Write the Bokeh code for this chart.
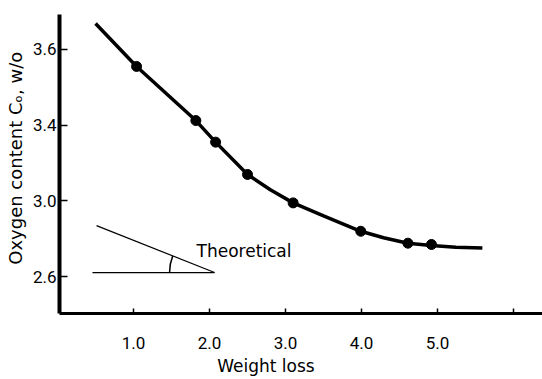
import math
from bokeh.plotting import figure
from bokeh.models import Range1d, Label, FixedTicker
from bokeh.embed import file_html
from bokeh.resources import INLINE

# measured points (weight loss, oxygen content in axis units)
wl_points = [1.04, 1.82, 2.08, 2.50, 3.10, 3.99, 4.61, 4.92]
oxy_points = [3.710, 3.424, 3.310, 3.139, 2.989, 2.839, 2.776, 2.769]

# drawn curve
wl_curve = [0.50, 1.04, 1.82, 2.08, 2.50, 2.80, 3.10, 3.50, 3.99, 4.29, 4.61, 4.92, 5.24, 5.59]
oxy_curve = [3.937, 3.710, 3.424, 3.310, 3.139, 3.058, 2.989, 2.920, 2.839, 2.805, 2.776, 2.764, 2.754, 2.750]

# "Theoretical" angle sketch
theo_h_x = [0.46, 2.066]
theo_h_y = [2.621, 2.621]
theo_s_x = [0.513, 2.066]
theo_s_y = [2.869, 2.621]

x_ticks = [1, 2, 3, 4, 5, 6]
x_tick_labels = ["1.0", "2.0", "3.0", "4.0", "5.0", ""]
y_ticks = [2.6, 3.0, 3.4, 3.8]
y_tick_labels = ["2.6", "3.0", "3.4", "3.6"]

NB = "\u00a0"

p = figure(width=542, height=379, output_backend="svg", toolbar_location=None,
           x_range=Range1d(0.026, 6.381), y_range=Range1d(2.4045, 3.9844),
           min_border_left=59, min_border_right=0, min_border_top=14, min_border_bottom=66)
p.outline_line_color = None
p.grid.visible = False
p.background_fill_color = "white"

p.xaxis.ticker = FixedTicker(ticks=x_ticks)
p.xaxis.major_label_overrides = {t: l for t, l in zip(x_ticks, x_tick_labels)}
p.yaxis.ticker = FixedTicker(ticks=y_ticks)
p.yaxis.major_label_overrides = {t: l for t, l in zip(y_ticks, y_tick_labels)}

for ax in (p.xaxis[0], p.yaxis[0]):
    ax.major_tick_out = 0
    ax.minor_tick_line_color = None
    ax.axis_line_color = "black"
    ax.major_tick_line_color = "black"
    ax.major_tick_line_width = 1.5
    ax.major_label_text_font = "Roboto"
    ax.major_label_text_font_size = "17px"
    ax.major_label_text_color = "black"
    ax.axis_label_text_font = "DejaVu Sans"
    ax.axis_label_text_font_style = "normal"
    ax.axis_label_text_color = "black"
p.yaxis.axis_line_width = 4
p.xaxis.axis_line_width = 3
p.yaxis.major_tick_in = 8
p.xaxis.major_tick_in = 5
p.yaxis.major_label_standoff = 3
p.xaxis.major_label_standoff = 23
p.xaxis.axis_label = "Weight loss" + NB * 13
p.xaxis.axis_label_text_font_size = "17px"
p.xaxis.axis_label_standoff = 4
p.yaxis.axis_label = NB * 2 + "Oxygen content C\u2092, w/o"
p.yaxis.axis_label_text_font_size = "18px"
p.yaxis.axis_label_standoff = 4

p.line(wl_curve, oxy_curve, line_width=3.5, color="black")
p.scatter(wl_points, oxy_points, size=10, color="black")

p.line(theo_h_x, theo_h_y, line_width=1.2, color="black")
p.line(theo_s_x, theo_s_y, line_width=1.2, color="black")
ang = math.atan2(47, 118)
p.arc(x=[theo_h_x[1]], y=[theo_h_y[1]], radius=45, radius_units="screen",
      start_angle=math.pi - ang, end_angle=math.pi, line_width=1.5, color="black")

p.add_layout(Label(x=1.829, y=2.737, text="Theoretical", text_font="DejaVu Sans",
                   text_font_size="17px", text_color="black",
                   text_baseline="alphabetic", text_align="left"))

open("out.html", "w").write(file_html(p, INLINE))
